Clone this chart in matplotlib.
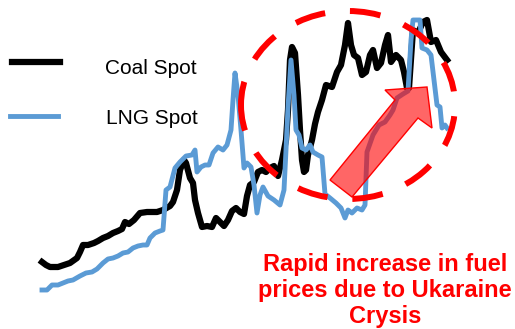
import matplotlib
matplotlib.use("Agg")
import matplotlib.pyplot as plt
from matplotlib.patches import Ellipse, Polygon
from matplotlib.lines import Line2D

plt.rcParams['font.family'] = ['Liberation Sans', 'DejaVu Sans']

# price index (arbitrary units), t = time position
coal_t = [42, 46, 50, 58, 64, 70, 77, 80, 83, 88, 94, 98, 103, 108, 113, 118, 122, 125, 129, 134,
          140, 147, 157, 163, 170, 173, 177, 180, 184, 186, 190, 193, 195, 198, 202, 207, 212, 216, 220, 224,
          228, 232, 236, 240, 244, 247, 250, 254, 258, 262, 266, 270, 274, 278, 282, 286, 288, 290, 292, 295,
          298, 300, 302, 304, 306, 308, 312, 315, 318, 322, 326, 332, 337, 341, 345, 348, 351, 354, 358, 362,
          366, 370, 373, 377, 381, 385, 388, 391, 396, 401, 404, 407, 409, 413, 418, 423, 427, 431, 436, 441,
          447]
coal_v = [38, 35, 33, 33, 35, 37, 42, 48, 55, 55, 57, 59, 62, 64, 67, 69, 71, 78, 76, 80,
          87, 88, 88, 90, 94, 98, 110, 130, 140, 137, 122, 117, 100, 87, 73, 74, 73, 82, 78, 74,
          80, 89, 92, 88, 86, 104, 115, 118, 128, 130, 128, 132, 134, 124, 140, 160, 190, 240, 253, 247,
          205, 170, 140, 128, 130, 145, 160, 176, 188, 200, 215, 213, 228, 235, 255, 277, 255, 245, 242, 225,
          228, 245, 250, 232, 237, 255, 265, 238, 245, 240, 228, 212, 212, 270, 267, 278, 280, 258, 260, 248,
          240]

lng_t = [42, 47, 52, 58, 63, 68, 73, 80, 86, 92, 97, 103, 108, 113, 118, 123, 128, 133, 138, 143,
         147, 150, 155, 160, 163, 166, 170, 175, 180, 186, 192, 195, 197, 201, 205, 209, 213, 218, 223, 227,
         231, 233, 235, 238, 241, 244, 247, 251, 254, 257, 260, 263, 268, 274, 280, 284, 286, 288, 291, 294,
         296, 299, 302, 306, 310, 313, 318, 322, 325, 330, 336, 341, 345, 348, 352, 357, 362, 365, 367, 373,
         379, 385, 390, 393, 397, 403, 408, 411, 413, 420, 422, 427, 431, 434, 437, 440, 442, 445, 447]
lng_v = [10, 10, 15, 15, 17, 19, 20, 24, 27, 28, 31, 37, 41, 42, 44, 47, 48, 52, 54, 55,
         55, 62, 67, 69, 70, 110, 113, 132, 138, 144, 145, 150, 128, 133, 135, 135, 147, 153, 150, 155,
         170, 200, 227, 205, 170, 132, 137, 133, 115, 87, 105, 113, 104, 100, 95, 110, 150, 193, 240, 205,
         170, 165, 152, 150, 155, 148, 145, 143, 106, 102, 97, 92, 82, 90, 87, 92, 90, 95, 148, 165,
         175, 178, 185, 190, 202, 206, 209, 260, 280, 280, 252, 250, 245, 220, 195, 193, 172, 175, 172]

labels = ["Coal Spot", "LNG Spot"]
note = "Rapid increase in fuel\nprices due to Ukaraine\nCrysis"

fig = plt.figure(figsize=(5.15, 3.29), dpi=100)
ax = fig.add_axes([0, 0, 1, 1])
ax.set_xlim(0, 515)
ax.set_ylim(-29, 300)
ax.axis("off")

ax.plot(coal_t, coal_v, color="black", lw=4.5, solid_joinstyle="round", zorder=2)
ax.plot(lng_t, lng_v, color="#5B9BD5", lw=3.5, solid_joinstyle="round", zorder=3)

# arrow over the spike
arrow = Polygon([(330, 120), (395, 200), (385, 210), (427, 213), (432, 172), (418, 182), (352, 103)],
                closed=True, facecolor=(1, 0, 0, 0.6), edgecolor="red", lw=1, zorder=4)
ax.add_patch(arrow)

# dashed ring, rotated so the dash pattern starts on the left side
circle = Ellipse((348, 195), 188, 214, angle=-90, fill=False, edgecolor="red", lw=4.3,
                 linestyle=(0.83, (5.17, 4.17)), zorder=5)
ax.add_patch(circle)

# legend
ax.add_line(Line2D([0.023, 0.117], [0.812, 0.812], transform=ax.transAxes, color="black", lw=4.5))
ax.add_line(Line2D([0.019, 0.113], [0.647, 0.647], transform=ax.transAxes, color="#5B9BD5", lw=3.5))
ax.text(0.204, 0.793, labels[0], transform=ax.transAxes, fontsize=15, va="center", ha="left")
ax.text(0.206, 0.641, labels[1], transform=ax.transAxes, fontsize=15, va="center", ha="left")

ax.text(0.748, 0.230, note, transform=ax.transAxes, fontsize=17, fontweight="bold", color="red",
        ha="center", va="top", linespacing=1.16)

fig.savefig("out.png", dpi=100)
